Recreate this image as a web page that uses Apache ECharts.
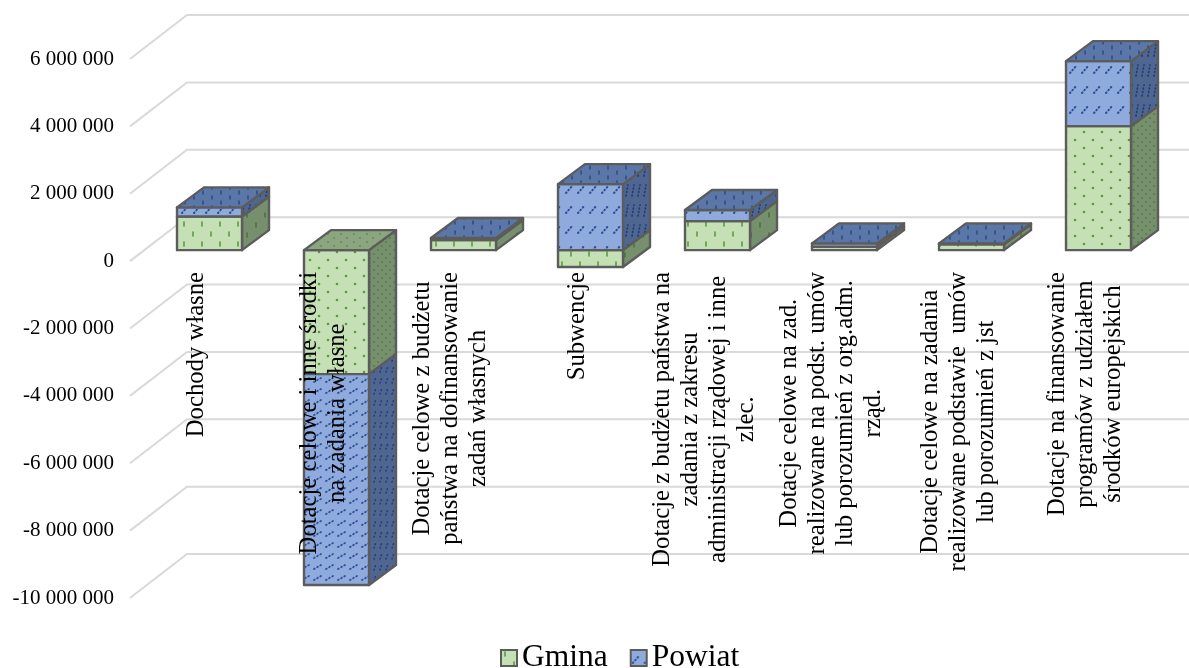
<!DOCTYPE html>
<html>
<head>
<meta charset="utf-8">
<style>html,body{margin:0;padding:0;background:#fff}#chart{width:1189px;height:668px}</style>
<script src="https://cdn.jsdelivr.net/npm/echarts@6/dist/echarts.min.js"></script>
</head>
<body>
<div id="chart"></div>
<script>
const categories = [
  'Dochody własne',
  'Dotacje celowe i inne środki\nna zadania własne',
  'Dotacje celowe z budżetu\npaństwa na dofinansowanie\nzadań własnych',
  'Subwencje',
  'Dotacje z budżetu państwa na\nzadania z zakresu\nadministracji rządowej i inne\nzlec.',
  'Dotacje celowe na zad.\nrealizowane na podst. umów\nlub porozumień z org.adm.\nrząd.',
  'Dotacje celowe na zadania\nrealizowane podstawie  umów\nlub porozumień z jst',
  'Dotacje na finansowanie\nprogramów z udziałem\nśrodków europejskich'
];
const gmina = [1000000, -3680000, 300000, -500000, 860000, 100000, 170000, 3680000];
const powiat = [270000, -6260000, 60000, 1960000, 330000, 100000, 30000, 1930000];
const tickValues = [6000000, 4000000, 2000000, 0, -2000000, -4000000, -6000000, -8000000, -10000000];

const FONT = '"Liberation Serif", "Times New Roman", serif';
const EDGE = '#5c5c5c';

// Floor depth of the chart and placement of the boxes on it
const FLOOR = { dx: 57, dy: -44 };
const BOX = { shiftX: 16, shiftY: -11, dx: 27, dy: -20, width: 65 };

// Repeating fill tile: a base colour with marks laid out on a staggered lattice
function tile(w, h, bg, ink, marks) {
  const c = document.createElement('canvas');
  c.width = w; c.height = h;
  const g = c.getContext('2d');
  g.fillStyle = bg; g.fillRect(0, 0, w, h);
  g.strokeStyle = ink; g.fillStyle = ink; g.lineCap = 'round';
  marks(g);
  return { image: c, repeat: 'repeat' };
}
function dots(list, r) {
  return g => list.forEach(p => { g.beginPath(); g.arc(p[0], p[1], r, 0, 7); g.fill(); });
}
function ticks(list, len, lw) {
  return g => { g.lineWidth = lw; list.forEach(p => { g.beginPath(); g.moveTo(p[0], p[1]); g.lineTo(p[0], p[1] + len); g.stroke(); }); };
}
function dashes(list, dx, dy, lw) {
  return g => {
    g.lineWidth = lw; g.setLineDash([0.8, 2.8]);
    list.forEach(p => { g.beginPath(); g.moveTo(p[0], p[1]); g.lineTo(p[0] + dx, p[1] - dy); g.stroke(); });
  };
}

const GREEN_INK = '#5c9a40', BLUE_INK = '#2a4f96';
const fills = {
  Gmina: {
    frontLoose: tile(18, 20, '#c5e0b4', GREEN_INK, ticks([[4, 2], [13, 12]], 4, 1.6)),
    frontDense: tile(18, 16, '#c5e0b4', GREEN_INK, dots([[4, 4], [13, 12]], 1.3)),
    sideLoose: tile(18, 20, '#76906d', '#3f6d2c', ticks([[4, 3], [13, 13]], 4, 1.3)),
    sideDense: tile(8, 8, '#76906d', '#3f6d2c', dots([[2, 2], [6, 6]], 0.8)),
    top: tile(13, 8, '#8ba67f', '#4f7a3c', dots([[3, 2], [9, 6]], 0.8))
  },
  Powiat: {
    frontLoose: tile(12, 20, '#8faadc', BLUE_INK, dashes([[2, 13]], 7, 8, 2)),
    frontDense: tile(12, 11, '#8faadc', BLUE_INK, dashes([[2, 8]], 7, 4, 1.8)),
    sideLoose: tile(6, 20, '#4f6690', '#1f3c78', dashes([[2, 16]], 2, 11, 1.7)),
    sideDense: tile(6, 11, '#4f6690', '#243f7c', dashes([[2, 9]], 2, 6, 1.6)),
    top: tile(18, 10, '#5b77a8', '#2a4a88', ticks([[5, 1], [14, 6]], 3, 1.5))
  }
};

// Stacks positive and negative values separately from zero, as [category, from, to, closesTop]
function stackSegments(lower, upper) {
  const seg = { Gmina: [], Powiat: [] };
  lower.forEach((g, i) => {
    const p = upper[i];
    const sameSide = g * p > 0;
    const gTop = g > 0 ? !sameSide : true;
    seg.Gmina.push([i, 0, g, gTop && !(g < 0 && p > 0) ? 1 : 0]);
    const pFrom = sameSide ? g : 0;
    seg.Powiat.push([i, pFrom, pFrom + p, p > 0 ? 1 : 0]);
  });
  return seg;
}
const segments = stackSegments(gmina, powiat);

function boxRenderer(name) {
  const f = fills[name];
  return function (params, api) {
    const a = api.coord([api.value(0), api.value(1)]);
    const b = api.coord([api.value(0), api.value(2)]);
    const left = a[0] - BOX.width / 2 + BOX.shiftX, right = left + BOX.width;
    const top = Math.min(a[1], b[1]) + BOX.shiftY, bottom = Math.max(a[1], b[1]) + BOX.shiftY;
    const tall = bottom - top > 100;
    const faceStyle = fill => ({ fill, stroke: EDGE, lineWidth: 2.4, lineJoin: 'round' });
    const children = [
      { type: 'polygon', shape: { points: [[right, top], [right + BOX.dx, top + BOX.dy], [right + BOX.dx, bottom + BOX.dy], [right, bottom]] },
        style: faceStyle(tall ? f.sideDense : f.sideLoose) },
      { type: 'rect', shape: { x: left, y: top, width: BOX.width, height: bottom - top },
        style: faceStyle(tall ? f.frontDense : f.frontLoose) }
    ];
    if (api.value(3)) {
      children.push({ type: 'polygon', shape: { points: [[left, top], [left + BOX.dx, top + BOX.dy], [right + BOX.dx, top + BOX.dy], [right, top]] },
        style: faceStyle(f.top) });
    }
    return { type: 'group', children };
  };
}

// Gridlines run along the floor edge and then across the back wall
function wallRenderer(params, api) {
  const p = api.coord([0, api.value(0)]);
  const x0 = 130;
  return {
    type: 'polyline',
    shape: { points: [[x0, p[1]], [x0 + FLOOR.dx, p[1] + FLOOR.dy], [api.getWidth(), p[1] + FLOOR.dy]] },
    style: { fill: 'none', stroke: '#d9d9d9', lineWidth: 2 }
  };
}

const legendSwatch = name => ({
  name,
  icon: 'rect',
  itemStyle: { color: fills[name].frontLoose, borderColor: EDGE, borderWidth: 2 },
  textStyle: { fontFamily: FONT, fontSize: 31.5, color: '#000' }
});

const chart = echarts.init(document.getElementById('chart'), null, { renderer: 'canvas' });
chart.setOption({
  animation: false,
  backgroundColor: '#fff',
  grid: { left: 130, top: 59, width: 1016, height: 539, outerBoundsMode: 'none' },
  legend: {
    left: 495, top: 637, itemWidth: 16, itemHeight: 16, itemGap: 22,
    selectedMode: false,
    data: [legendSwatch('Gmina'), legendSwatch('Powiat')]
  },
  xAxis: {
    type: 'category',
    data: categories,
    z: 20,
    position: 'bottom',
    offset: -337,            // the label row hangs from the zero level of the front plane
    axisLine: { show: false, onZero: false },
    axisTick: { show: false },
    splitLine: { show: false },
    axisLabel: {
      interval: 0,
      rotate: 90,
      margin: 11,
      hideOverlap: false,
      color: '#000',
      padding: [6, 0, 0, 0],
      formatter: value => value.split('\n').map(line => '{l|' + line + '}').join('\n'),
      rich: { l: { align: 'center', fontFamily: FONT, fontSize: 24.7, lineHeight: 28, color: '#000' } }
    }
  },
  yAxis: {
    type: 'value',
    min: -10000000,
    max: 6000000,
    interval: 2000000,
    axisLine: { show: false },
    axisTick: { show: false },
    splitLine: { show: false },
    axisLabel: {
      margin: 16,
      color: '#000',
      fontFamily: FONT,
      fontSize: 21,
      formatter: v => String(v).replace(/\B(?=(\d{3})+$)/g, ' ')
    }
  },
  series: [
    { type: 'custom', name: 'wall', z: 1, silent: true, renderItem: wallRenderer,
      encode: { y: 0 }, data: tickValues.map(v => [v]) },
    { type: 'custom', name: 'Gmina', z: 5, itemStyle: { color: '#c5e0b4' }, renderItem: boxRenderer('Gmina'),
      encode: { x: 0, y: 2 }, data: segments.Gmina },
    { type: 'custom', name: 'Powiat', z: 6, itemStyle: { color: '#8faadc' }, renderItem: boxRenderer('Powiat'),
      encode: { x: 0, y: 2 }, data: segments.Powiat }
  ]
});
</script>
</body>
</html>
